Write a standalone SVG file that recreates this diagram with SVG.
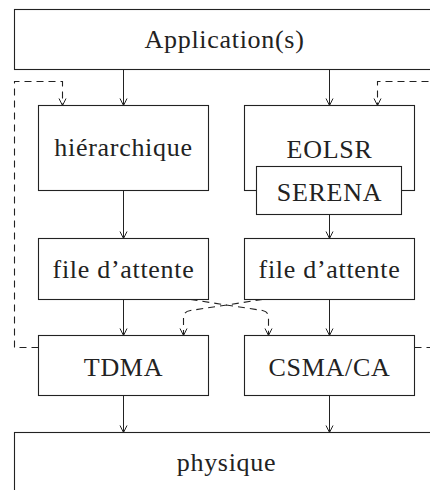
<svg xmlns="http://www.w3.org/2000/svg" width="430" height="490" viewBox="0 0 430 490">
<defs>
<marker id="arr" markerWidth="10" markerHeight="10" refX="8" refY="5" orient="auto" markerUnits="userSpaceOnUse">
<path d="M1,1.5 L8,5 L1,8.5" fill="none" stroke="#222" stroke-width="1"/>
</marker>
<style>
.box{fill:#fff;stroke:#222;stroke-width:1.1}
.lbl{font-family:"Liberation Serif","DejaVu Serif",serif;font-size:26px;letter-spacing:0.7px;fill:#222;text-anchor:middle}
.c{fill:none;stroke:#222;stroke-width:1}
.d{fill:none;stroke:#222;stroke-width:1.1;stroke-dasharray:7 5}
</style>
</defs>
<rect width="430" height="490" fill="#fff"/>
<g transform="translate(0.5,0.5)">
<g id="connectors">
<line class="c" x1="123" y1="69" x2="123" y2="105" marker-end="url(#arr)"/>
<line class="c" x1="329" y1="69" x2="329" y2="105" marker-end="url(#arr)"/>
<line class="c" x1="123" y1="190" x2="123" y2="238" marker-end="url(#arr)"/>
<line class="c" x1="329" y1="214" x2="329" y2="238" marker-end="url(#arr)"/>
<line class="c" x1="123" y1="299" x2="123" y2="335" marker-end="url(#arr)"/>
<line class="c" x1="329" y1="299" x2="329" y2="335" marker-end="url(#arr)"/>
<line class="c" x1="123" y1="395" x2="123" y2="432" marker-end="url(#arr)"/>
<line class="c" x1="329" y1="395" x2="329" y2="432" marker-end="url(#arr)"/>
<path class="d" d="M38,347 L14,347 L14,81 L62,81 L62,105" marker-end="url(#arr)"/>
<path class="d" d="M440,81 L377,81 L377,105" marker-end="url(#arr)"/>
<path class="d" d="M414,347 L440,347"/>
<path class="d" d="M190,299 L262,310 Q268,311 268,317 L268,335" marker-end="url(#arr)"/>
<path class="d" d="M262,299 L190,310 Q183,311 183,317 L183,335" marker-end="url(#arr)"/>
</g>
<g id="application"><rect class="box" x="14" y="9" width="430" height="60"/><text class="lbl" x="224" y="47">Application(s)</text></g>
<g id="hierarchique"><rect class="box" x="38" y="105" width="170" height="85"/><text class="lbl" x="123" y="155">hiérarchique</text></g>
<g id="eolsr"><rect class="box" x="244" y="105" width="170" height="85"/><text class="lbl" x="329" y="157">EOLSR</text></g>
<g id="serena"><rect class="box" x="256" y="166" width="145" height="48"/><text class="lbl" x="329" y="200">SERENA</text></g>
<g id="file1"><rect class="box" x="38" y="238" width="170" height="61"/><text class="lbl" x="123" y="277">file d’attente</text></g>
<g id="file2"><rect class="box" x="244" y="238" width="170" height="61"/><text class="lbl" x="329" y="277">file d’attente</text></g>
<g id="tdma"><rect class="box" x="38" y="335" width="170" height="60"/><text class="lbl" x="123" y="375">TDMA</text></g>
<g id="csma"><rect class="box" x="244" y="335" width="170" height="60"/><text class="lbl" x="329" y="375">CSMA/CA</text></g>
<g id="physique"><rect class="box" x="14" y="432" width="430" height="80"/><text class="lbl" x="226" y="470">physique</text></g>
</g>
</svg>
